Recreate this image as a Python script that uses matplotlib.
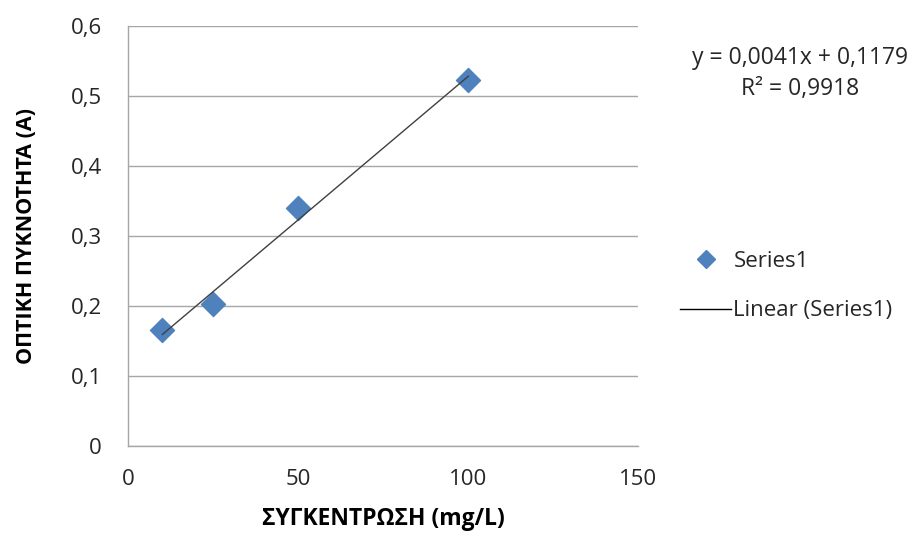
import matplotlib
matplotlib.use("Agg")
import matplotlib.pyplot as plt
from matplotlib.lines import Line2D

plt.rcParams['font.family'] = ['Open Sans', 'DejaVu Sans']

# Calibration measurements
concentration = [10, 25, 50, 100]          # mg/L
absorbance = [0.165, 0.203, 0.339, 0.522]  # A

# Linear trendline coefficients
slope = 0.0041
intercept = 0.1179
r_squared = 0.9918

x_ticks = [0, 50, 100, 150]
x_tick_labels = ['0', '50', '100', '150']
y_ticks = [0, 0.1, 0.2, 0.3, 0.4, 0.5, 0.6]
y_tick_labels = ['0', '0,1', '0,2', '0,3', '0,4', '0,5', '0,6']

fig = plt.figure(figsize=(9.14, 5.34), dpi=100)
ax = fig.add_axes([0.1405, 0.1654, 0.558, 0.7865])

marker_color = '#4F81BD'
grid_color = '#A6A6A6'
text_color = '#262626'

ax.set_xlim(0, 150)
ax.set_ylim(0, 0.6)
ax.set_xticks(x_ticks)
ax.set_xticklabels(x_tick_labels)
ax.set_yticks(y_ticks)
ax.set_yticklabels(y_tick_labels)
ax.tick_params(length=0, labelsize=16, colors=text_color)
ax.tick_params(axis='y', pad=19)
ax.tick_params(axis='x', pad=17)

ax.grid(axis='y', color=grid_color, linewidth=1.0)
ax.set_axisbelow(True)
for side in ('top', 'right'):
    ax.spines[side].set_visible(False)
for side in ('left', 'bottom'):
    ax.spines[side].set_color(grid_color)
    ax.spines[side].set_linewidth(1.0)

x_line = [min(concentration), max(concentration)]
y_line = [slope * v + intercept for v in x_line]

ax.scatter(concentration, absorbance, marker='D', s=150, color=marker_color,
           zorder=3, clip_on=False)
ax.plot(x_line, y_line, color='#404040', linewidth=1.0, zorder=4)

ax.set_xlabel('ΣΥΓΚΕΝΤΡΩΣΗ (mg/L)', fontsize=16.5, fontweight='bold',
              color='black', labelpad=12)
ax.set_ylabel('ΟΠΤΙΚΗ ΠΥΚΝΟΤΗΤΑ (A)', fontsize=15.5, fontweight='bold',
              color='black', labelpad=24)

eq_text = 'y = {:.4f}x + {:.4f}'.format(slope, intercept).replace('.', ',')
r2_text = 'R² = {:.4f}'.format(r_squared).replace('.', ',')
fig.text(800 / 914, 1 - 58 / 534, eq_text, ha='center', va='center',
         fontsize=16.5, color=text_color)
fig.text(800 / 914, 1 - 89 / 534, r2_text, ha='center', va='center',
         fontsize=16.5, color=text_color)

handles = [
    Line2D([], [], marker='D', linestyle='none', color=marker_color, markersize=9),
    Line2D([], [], color='black', linewidth=1.0),
]
fig.legend(handles, ['Series1', 'Linear (Series1)'], loc='center left',
           bbox_to_anchor=(660 / 914, 1 - 286 / 534), frameon=False,
           fontsize=16, handlelength=2.3, handletextpad=0.1, labelspacing=1.3,
           labelcolor=text_color)

fig.savefig('out.png', dpi=100)
